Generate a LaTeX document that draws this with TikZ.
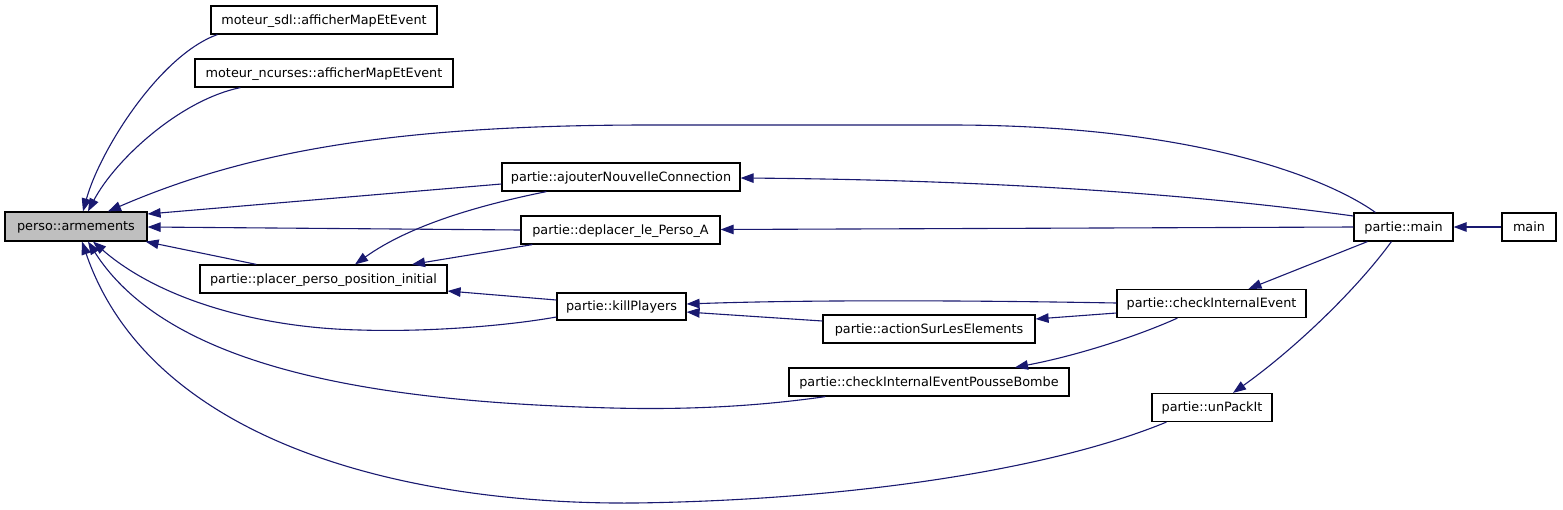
\documentclass[tikz,border=0pt]{standalone}
\usepackage{fontspec}
\setmainfont{DejaVu Sans}
\usetikzlibrary{arrows.meta}
\definecolor{edgeblue}{RGB}{25,25,112}
\definecolor{rootgray}{RGB}{191,191,191}
\begin{document}
\begin{tikzpicture}[x=1pt,y=-1pt,
  box/.style={draw=black, line width=1.2pt, fill=white, inner sep=0pt,
    minimum height=28pt, text height=10.5pt, text depth=2.5pt,
    font=\fontsize{12.8pt}{14pt}\selectfont},
  edge/.style={draw=edgeblue, line width=1.1pt,
    -{Triangle[length=13pt,width=9.5pt]}, fill=none}]
\useasboundingbox[fill=white] (0,0) rectangle (1563,509);

% nodes
\node[box, fill=rootgray, minimum width=142pt, minimum height=29pt] (arm) at (76,226.5) {perso::armements};
\node[box, minimum width=226pt] (sdl) at (324,20) {moteur\_sdl::afficherMapEtEvent};
\node[box, minimum width=258pt] (ncu) at (324,73) {moteur\_ncurses::afficherMapEtEvent};
\node[box, minimum width=238pt] (ajo) at (621,177) {partie::ajouterNouvelleConnection};
\node[box, minimum width=199pt] (dep) at (620.5,230) {partie::deplacer\_le\_Perso\_A};
\node[box, minimum width=247pt] (pla) at (323.5,279) {partie::placer\_perso\_position\_initial};
\node[box, minimum width=129pt, minimum height=27pt] (kil) at (621.5,306.5) {partie::killPlayers};
\node[box, minimum width=212pt] (act) at (929,329) {partie::actionSurLesElements};
\node[box, minimum width=280pt] (pou) at (929,382) {partie::checkInternalEventPousseBombe};
\node[box, minimum width=99pt] (pma) at (1403.5,227) {partie::main};
\node[box, minimum width=54pt] (mai) at (1529,227) {main};
\node[box, minimum width=189pt] (cie) at (1211.5,303.5) {partie::checkInternalEvent};
\node[box, minimum width=120pt] (unp) at (1212,407.5) {partie::unPackIt};

% edges into perso::armements
\draw[edge] ([xshift=7pt]sdl.south west) .. controls (160,55) and (100,150) .. ([xshift=7pt]arm.north);
\draw[edge] ([xshift=46pt]ncu.south west) .. controls (180,100) and (115,160) .. ([xshift=12pt]arm.north);
\draw[edge] ([xshift=22pt]pma.north west) .. controls (1330,180) and (1200,125) .. (950,125)
  -- (650,125) .. controls (400,125) and (250,150) .. ([xshift=32pt]arm.north);
\draw[edge] ([yshift=-7pt]ajo.west) -- ([yshift=12.5pt]arm.east);
\draw[edge] (dep.west) -- ([yshift=-0.5pt]arm.east);
\draw[edge] ([xshift=57pt]pla.north west) -- ([xshift=-2pt]arm.south east);
\draw[edge] ([yshift=-10.5pt]kil.west) .. controls (500,327) and (420,332) .. (360,330)
  .. controls (260,328) and (160,300) .. ([xshift=17pt]arm.south);
\draw[edge] ([xshift=37pt]pou.south west) .. controls (760,406) and (690,410) .. (612,408)
  .. controls (380,402) and (170,370) .. ([xshift=12pt]arm.south);
\draw[edge] ([xshift=15pt]unp.south west) .. controls (1050,470) and (850,500) .. (635,503)
  .. controls (400,505) and (150,440) .. ([xshift=6pt]arm.south);

% edges into partie::placer_perso_position_initial
\draw[edge] ([xshift=45pt]ajo.south west) .. controls (480,205) and (410,225) .. ([xshift=31.5pt]pla.north);
\draw[edge] ([xshift=12pt]dep.south west) -- ([xshift=88.5pt]pla.north);
\draw[edge] ([yshift=6.5pt]kil.west) -- ([yshift=-12pt]pla.east);

% edges from partie::main
\draw[edge] ([yshift=11pt]pma.west) .. controls (1200,195) and (1000,180) .. ([yshift=-1pt]ajo.east);
\draw[edge] (pma.west) -- ([yshift=0.5pt]dep.east);
\draw[edge] (mai.west) -- (pma.east);
\draw[edge] ([xshift=14pt]pma.south west) -- ([xshift=37pt]cie.north);
\draw[edge] ([xshift=38pt]pma.south west) .. controls (1360,285) and (1300,345) .. ([xshift=21pt]unp.north);

% edges from partie::checkInternalEvent
\draw[edge] ([yshift=0.5pt]cie.west) .. controls (950,300) and (800,300) .. ([yshift=2.5pt]kil.east);
\draw[edge] ([yshift=-9.5pt]cie.west) -- ([yshift=10pt]act.east);
\draw[edge] ([xshift=61pt]cie.south west) .. controls (1140,335) and (1080,355) .. ([xshift=86pt]pou.north);

% edge from partie::actionSurLesElements
\draw[edge] ([yshift=8pt]act.west) -- ([yshift=-5.5pt]kil.east);
\end{tikzpicture}
\end{document}
